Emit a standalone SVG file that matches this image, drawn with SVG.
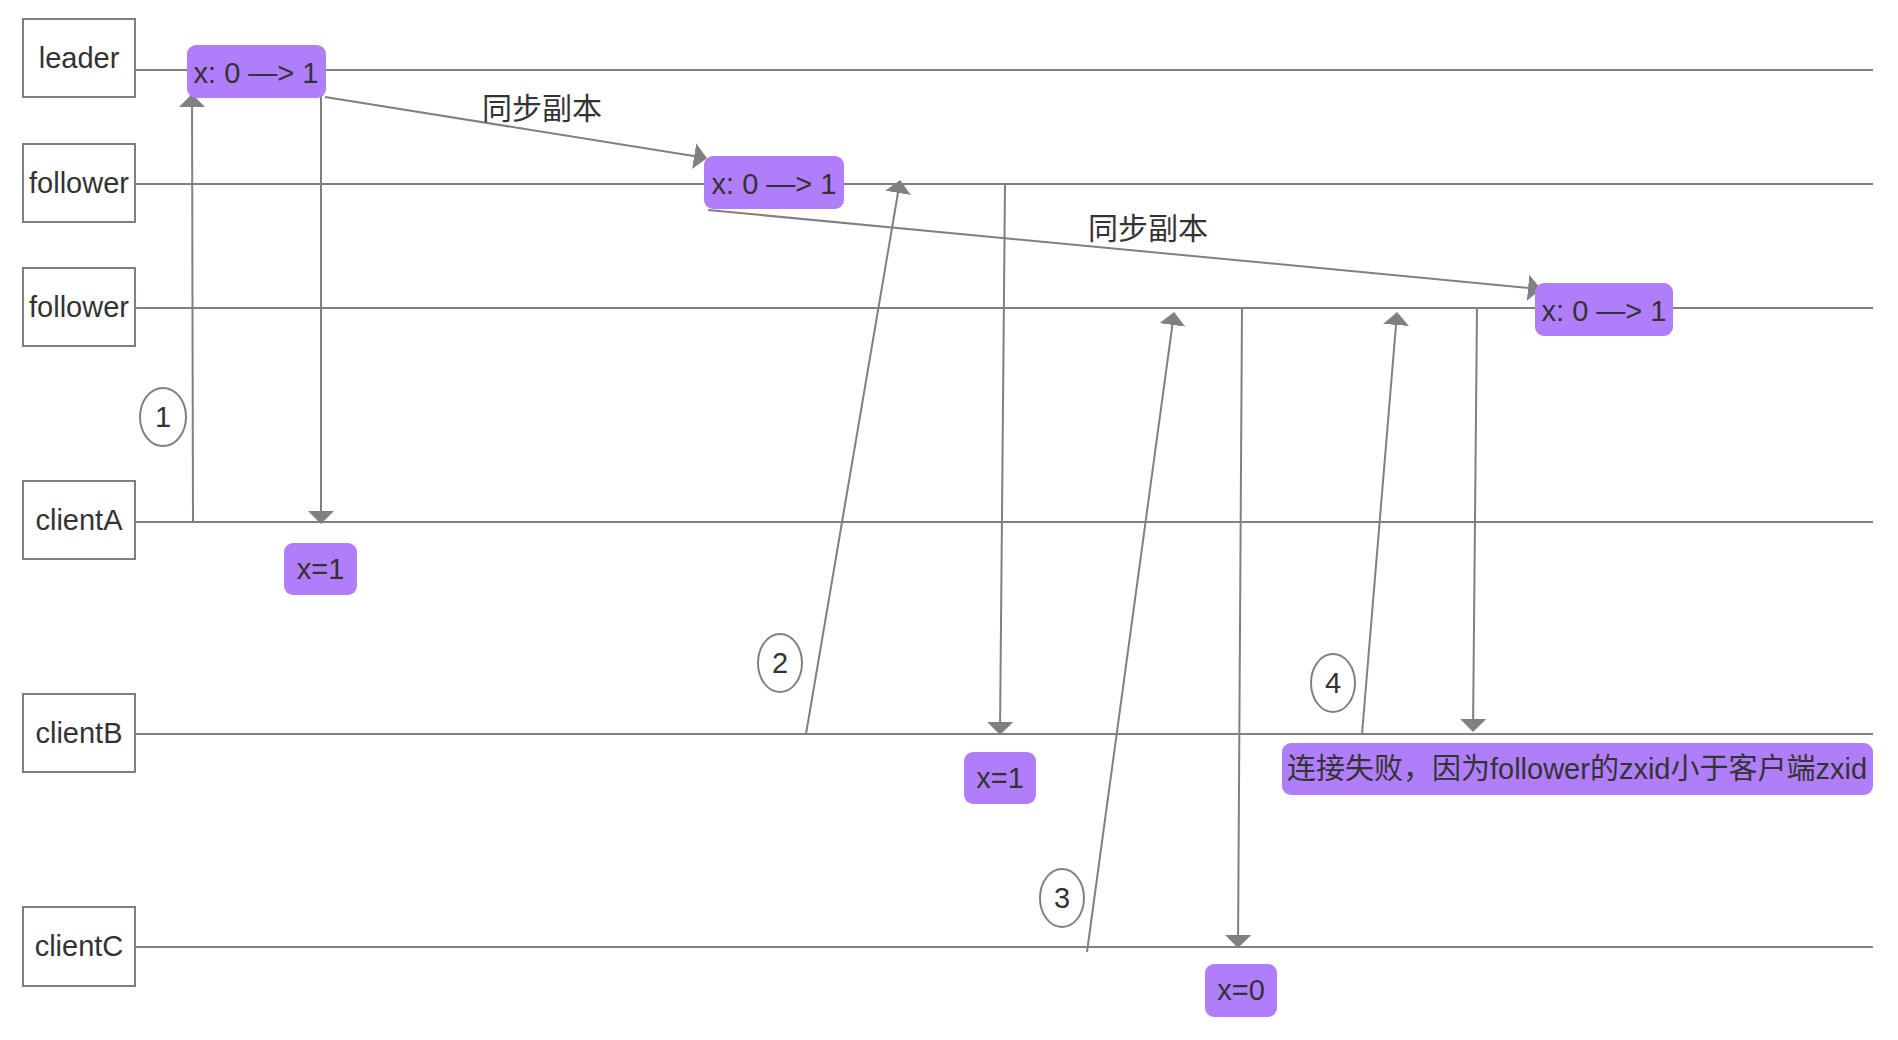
<svg xmlns="http://www.w3.org/2000/svg" width="1898" height="1040" viewBox="0 0 1898 1040">
<style>
text{font-family:"Liberation Sans","Noto Sans CJK SC",sans-serif;font-size:29px;fill:#333;text-anchor:middle;dominant-baseline:central}
.box{fill:#fff;stroke:#808080;stroke-width:2}
.pill{fill:#b07efa;stroke:none}
.life{stroke:#808080;stroke-width:2;fill:none}
.arr{stroke:#808080;stroke-width:2;fill:none;marker-end:url(#ah)}
.num{fill:#fff;stroke:#808080;stroke-width:2}
.lbl{font-size:30px}
</style>
<defs>
<marker id="ah" viewBox="0 0 13 26" refX="12" refY="13" markerWidth="13" markerHeight="26" markerUnits="userSpaceOnUse" orient="auto">
<path d="M0,0 L13,13 L0,26 z" fill="#808080"/>
</marker>
</defs>
<rect width="1898" height="1040" fill="#fff"/>
<g id="lifelines">
<line class="life" x1="135" y1="70" x2="1873" y2="70"/>
<line class="life" x1="135" y1="184" x2="1873" y2="184"/>
<line class="life" x1="135" y1="308" x2="1873" y2="308"/>
<line class="life" x1="135" y1="522" x2="1873" y2="522"/>
<line class="life" x1="135" y1="734" x2="1873" y2="734"/>
<line class="life" x1="135" y1="947" x2="1873" y2="947"/>
</g>
<g id="connectors">
<line class="arr" x1="193" y1="522" x2="192" y2="95"/>
<line class="arr" x1="321" y1="96" x2="321" y2="523"/>
<line class="arr" x1="325" y1="97" x2="706" y2="158"/>
<line class="arr" x1="708" y1="210" x2="1540" y2="289"/>
<line class="arr" x1="806" y1="734" x2="900" y2="181"/>
<line class="arr" x1="1005" y1="184" x2="1000" y2="734"/>
<line class="arr" x1="1087" y1="952" x2="1174" y2="313"/>
<line class="arr" x1="1242" y1="308" x2="1238" y2="947"/>
<line class="arr" x1="1362" y1="734" x2="1397" y2="313"/>
<line class="arr" x1="1477" y1="308" x2="1473" y2="731"/>
<text class="lbl" x="542" y="108">同步副本</text>
<text class="lbl" x="1148" y="228">同步副本</text>
</g>
<g id="node-leader"><rect class="box" x="23" y="19" width="112" height="78"/><text x="79" y="58">leader</text></g>
<g id="node-follower1"><rect class="box" x="23" y="144" width="112" height="78"/><text x="79" y="183">follower</text></g>
<g id="node-follower2"><rect class="box" x="23" y="268" width="112" height="78"/><text x="79" y="307">follower</text></g>
<g id="node-clientA"><rect class="box" x="23" y="481" width="112" height="78"/><text x="79" y="520">clientA</text></g>
<g id="node-clientB"><rect class="box" x="23" y="694" width="112" height="78"/><text x="79" y="733">clientB</text></g>
<g id="node-clientC"><rect class="box" x="23" y="907" width="112" height="79"/><text x="79" y="946">clientC</text></g>
<g id="state-leader"><rect class="pill" x="187" y="45" width="139" height="53" rx="9"/><text x="256" y="73">x: 0 —&gt; 1</text></g>
<g id="state-follower1"><rect class="pill" x="704" y="156" width="140" height="53" rx="9"/><text x="774" y="184">x: 0 —&gt; 1</text></g>
<g id="state-follower2"><rect class="pill" x="1535" y="283" width="138" height="53" rx="9"/><text x="1604" y="311">x: 0 —&gt; 1</text></g>
<g id="result-A"><rect class="pill" x="284" y="543" width="73" height="52" rx="9"/><text x="320.500" y="569">x=1</text></g>
<g id="result-B"><rect class="pill" x="964" y="752" width="72" height="52" rx="9"/><text x="1000" y="778">x=1</text></g>
<g id="result-C"><rect class="pill" x="1205" y="964" width="72" height="53" rx="9"/><text x="1241" y="990">x=0</text></g>
<g id="result-fail"><rect class="pill" x="1282" y="743" width="591" height="52" rx="9"/><text x="1577" y="769">连接失败，因为follower的zxid小于客户端zxid</text></g>
<g id="step1"><ellipse class="num" cx="163" cy="417" rx="23" ry="29"/><text x="163" y="417">1</text></g>
<g id="step2"><ellipse class="num" cx="780" cy="663" rx="22" ry="29"/><text x="780" y="663">2</text></g>
<g id="step3"><ellipse class="num" cx="1062" cy="898" rx="22" ry="29"/><text x="1062" y="898">3</text></g>
<g id="step4"><ellipse class="num" cx="1333" cy="683" rx="22" ry="29"/><text x="1333" y="683">4</text></g>
</svg>
